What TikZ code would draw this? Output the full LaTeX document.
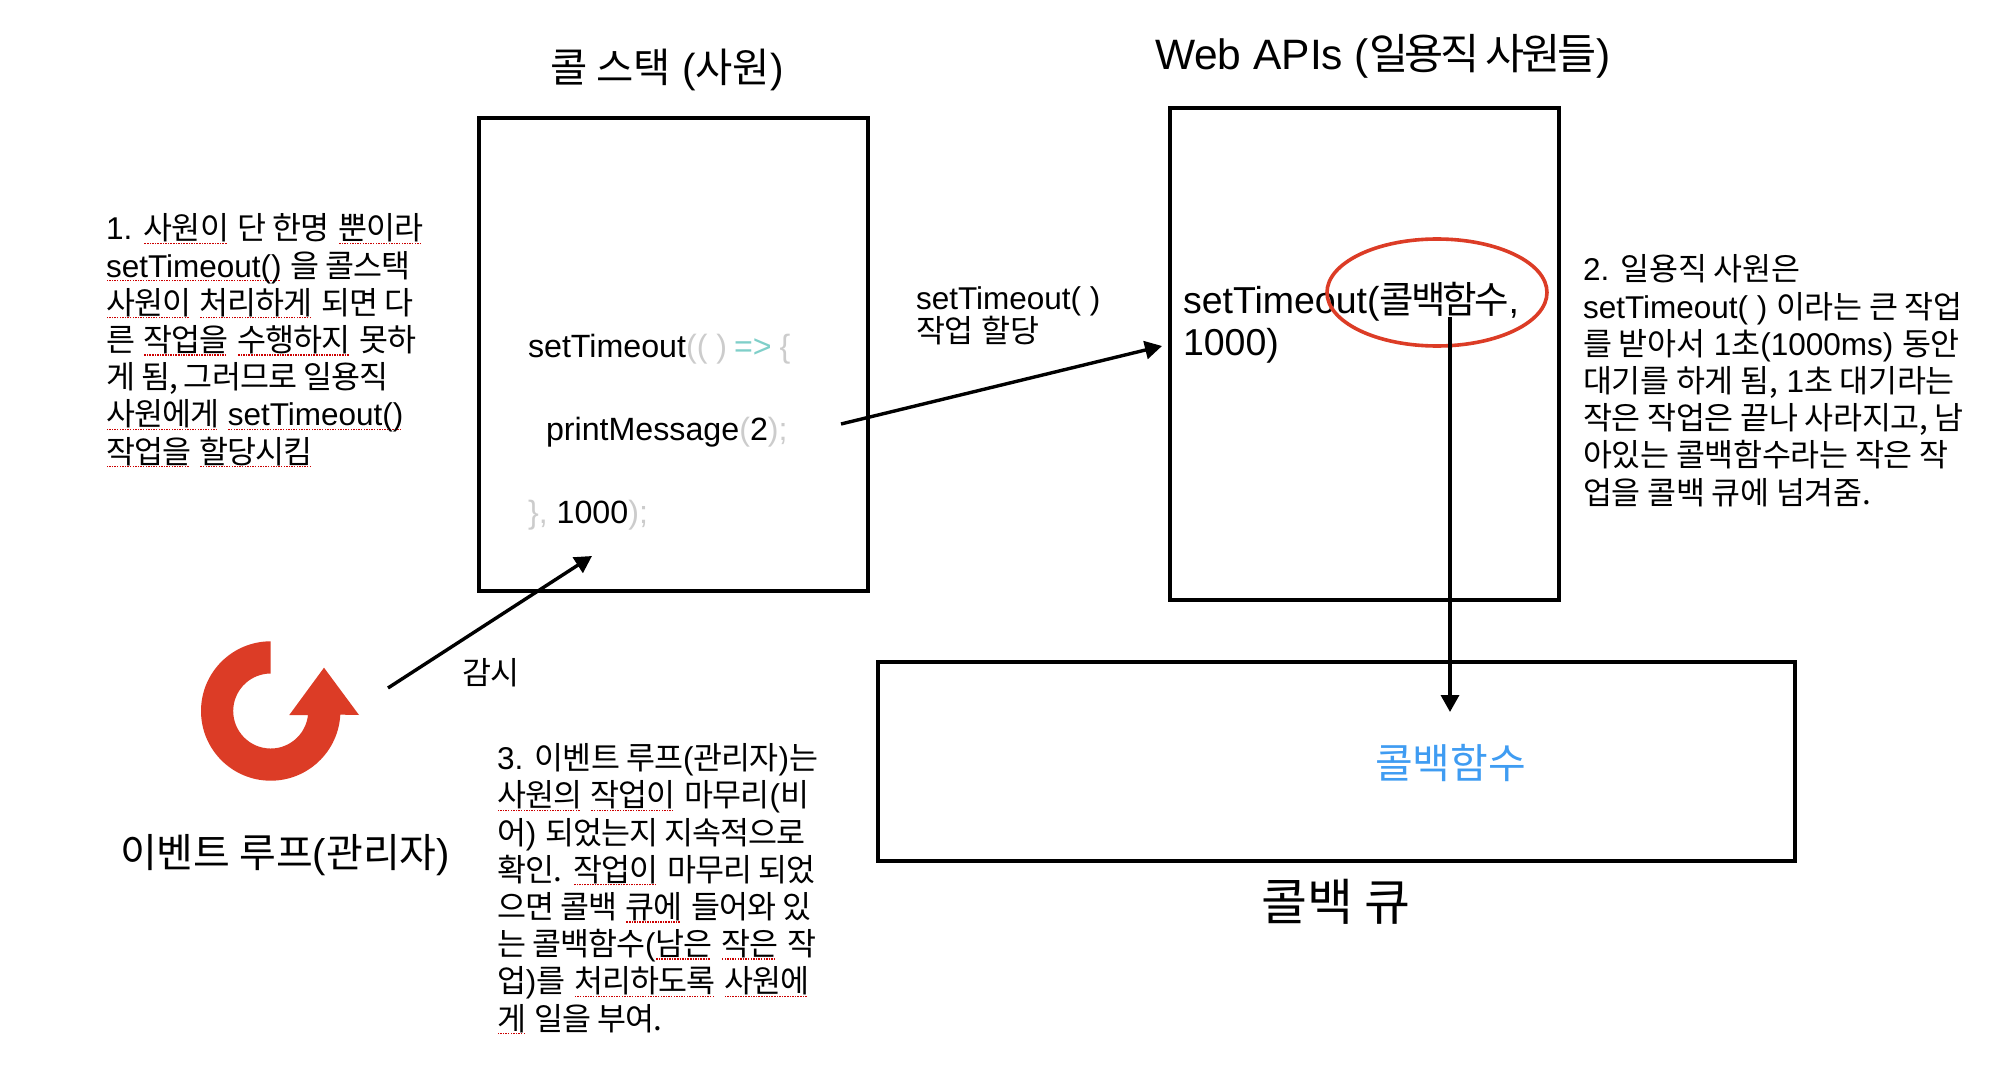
\documentclass[tikz,border=0pt]{standalone}
\usepackage{fontspec}
\setmainfont{Liberation Sans}
\newfontfamily\cjk{Noto Sans CJK KR}
\newfontfamily\cjktight[LetterSpace=-8]{Noto Sans CJK KR}
\newfontfamily\cjkpara[LetterSpace=-3]{Noto Sans CJK KR}
\newfontfamily\cjkparb[LetterSpace=-1]{Noto Sans CJK KR}
\usetikzlibrary{arrows.meta}
\definecolor{loopred}{HTML}{DC3C26}
\definecolor{codegray}{HTML}{CCCCCC}
\definecolor{codeteal}{HTML}{7FCFC9}
\definecolor{cbblue}{HTML}{3F9CF2}
\newcommand\K[1]{{\cjk #1}}
\newcommand\KT[1]{{\cjktight #1}}
\newcommand\KA[1]{{\cjkpara #1}}
\newcommand\KB[1]{{\cjkparb #1}}
\newcommand\sq[1]{\leavevmode\setbox0\hbox{#1}\rlap{\raisebox{-4.2pt}{\color{red!80!black}\hbox to\wd0{\leaders\hbox to 2.6pt{\hss\rule{1.5pt}{1.5pt}\hss}\hfill}}}\box0\relax}
\tikzset{
  box/.style={draw=black,line width=4.8pt,fill=none,minimum width=0pt},
  txt/.style={anchor=base west,inner sep=0pt,outer sep=0pt,text=black},
  para/.style={txt,align=left,font=\fontsize{31.5}{37.2}\selectfont},
  conn/.style={draw=black,line width=3.4pt,-{Triangle[length=17pt,width=18pt]}},
  code/.style={txt,font=\fontsize{32.2}{37}\selectfont},
}
\begin{document}
\begin{tikzpicture}[x=1pt,y=-1pt]
\useasboundingbox[fill=white] (0,0) rectangle (2006,1078);
% boxes
\draw[box] (479,118) rectangle (868,591);
\draw[box] (1170,108) rectangle (1559,600);
\draw[box] (878,662) rectangle (1795,861);
% titles
\node[txt,font=\fontsize{40.5}{46}\selectfont] (t1) at (550,83) {\K{콜 스택} (\K{사원})};
\node[txt,font=\fontsize{42.5}{48}\selectfont] (t2) at (1155,70) {Web APIs (\KT{일용직 사원들})};
\node[txt,font=\fontsize{50}{54}\selectfont] (t3) at (1261,920) {\K{콜백 큐}};
\node[txt,font=\fontsize{40}{46}\selectfont] (t4) at (120,867) {\K{이벤트 루프}(\K{관리자})};
% code
\node[code] (c1) at (528,357) {setTimeout\textcolor{codegray}{(( )}\kern-2pt\ \textcolor{codeteal}{=>}\kern-1pt\ \textcolor{codegray}{\{}};
\node[code] (c2) at (546,440) {printMessage\textcolor{codegray}{(}2\textcolor{codegray}{);}};
\node[code] (c3) at (528,523) {\textcolor{codegray}{\},} 1000\textcolor{codegray}{);}};
% web api text
\node[txt,font=\fontsize{37.5}{40}\selectfont] (w1) at (1183,313) {setTimeout(\KT{콜백함수},};
\node[txt,font=\fontsize{37.5}{40}\selectfont] (w2) at (1183,355) {1000)};
% queue content
\node[txt,font=\fontsize{41}{46}\selectfont,text=cbblue] (q1) at (1375,778) {\K{콜백함수}};
% labels
\node[para] (l1) at (916,342) {setTimeout( )\\[-5pt]\K{작업 할당}};
\node[para] (l2) at (462,684) {\K{감시}};
% paragraphs
\node[para] (p1) at (106,463) {1. \sq{\KA{사원이}} \KA{단 한명} \sq{\KA{뿐이라}}\\
\sq{setTimeout()} \KA{을 콜스택}\\
\sq{\KA{사원이}} \sq{\KA{처리하게}} \KA{되면 다}\\
\KA{른} \sq{\KA{작업을}} \sq{\KA{수행하지}} \KA{못하}\\
\KA{게 됨, 그러므로 일용직}\\
\sq{\KA{사원에게}} \sq{setTimeout()}\\
\sq{\KA{작업을}} \sq{\KA{할당시킴}}};
\node[para] (p2) at (1583,504) {2. \KB{일용직 사원은}\\
setTimeout( ) \KB{이라는 큰 작업}\\
\KB{를 받아서} 1\KB{초}(1000ms) \KB{동안}\\
\KB{대기를 하게 됨,} 1\KB{초 대기라는}\\
\KB{작은 작업은 끝나 사라지고, 남}\\
\KB{아있는 콜백함수라는 작은 작}\\
\KB{업을 콜백 큐에 넘겨줌.}};
\node[para] (p3) at (497,1030) {3. \KA{이벤트 루프}(\KA{관리자})\KA{는}\\
\sq{\KA{사원의}} \sq{\KA{작업이}} \KA{마무리}(\KA{비}\\
\KA{어}) \KA{되었는지 지속적으로}\\
\KA{확인.} \sq{\KA{작업이}} \KA{마무리 되었}\\
\KA{으면 콜백} \sq{\KA{큐에}} \KA{들어와 있}\\
\KA{는 콜백함수}(\sq{\KA{남은}} \sq{\KA{작은}} \KA{작}\\
\KA{업})\KA{를} \sq{\KA{처리하도록}} \sq{\KA{사원에}}\\
\sq{\KA{게}} \KA{일을 부여.}};
% ellipse
\draw[draw=loopred,line width=3.6pt] (1437,292.5) ellipse [x radius=110,y radius=53.5];
% loop icon
\fill[loopred] (270.7,641.3) arc[start angle=-90,end angle=-357,radius=69.7]
  -- (359,715) -- (324,667.7) -- (289.3,715) -- (308.0,715)
  arc[start angle=-353.9,end angle=-90,radius=37.5] -- cycle;
% connectors
\coordinate (a1s) at (841,424);
\coordinate (a1e) at (1162,346);
\coordinate (a2s) at (388,688);
\coordinate (a2e) at (592,556);
\coordinate (a3s) at (1450,317);
\coordinate (a3e) at (1450,712);
\draw[conn] (a1s) -- (a1e);
\draw[conn] (a2s) -- (a2e);
\draw[conn] (a3s) -- (a3e);
\end{tikzpicture}
\end{document}
